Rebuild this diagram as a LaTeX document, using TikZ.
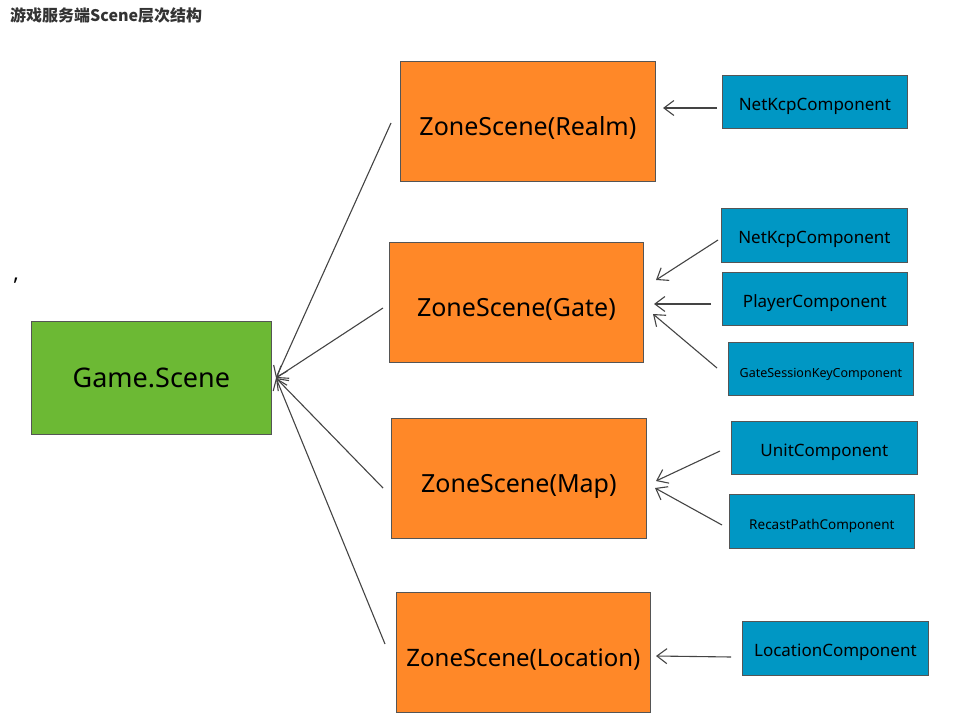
\documentclass[tikz,border=0pt]{standalone}
\usepackage{fontspec}
\setmainfont{Noto Sans}
\newfontfamily\cjk{Noto Sans CJK SC}
\usetikzlibrary{arrows.meta}
\definecolor{gsgreen}{HTML}{6CB934}
\definecolor{zsorange}{HTML}{FF8828}
\definecolor{compblue}{HTML}{0097C4}
\definecolor{edgegray}{HTML}{555555}
\definecolor{linegray}{HTML}{444444}
\begin{document}
\begin{tikzpicture}[x=1pt,y=-1pt,
  box/.style={draw=edgegray, line width=0.8pt, inner sep=0pt, anchor=north west},
  gamebox/.style={box, fill=gsgreen},
  zonebox/.style={box, fill=zsorange, minimum width=255pt, minimum height=120pt, text height=29pt, text depth=1pt, font=\fontsize{25}{28}\selectfont},
  compbox/.style={box, fill=compblue, minimum width=186pt, minimum height=54pt, text height=18pt, text depth=1pt, font=\fontsize{17}{20}\selectfont},
  link/.style={draw=linegray, line width=1.1pt, -{Straight Barb[length=10pt,width=15pt]}}
]
\useasboundingbox (0,0) rectangle (966,714);
\node[anchor=west, text=black!80, font=\cjk\bfseries\fontsize{16}{19}\selectfont, inner sep=0pt] (title) at (10,15) {游戏服务端Scene层次结构};
\node[inner sep=0pt, font=\bfseries\fontsize{22}{24}\selectfont] (comma) at (16,281) {,};

\node[gamebox, minimum width=240pt, minimum height=113pt, font=\fontsize{27}{30}\selectfont] (game) at (31,321) {Game.Scene};

\node[zonebox] (realm) at (400,61) {ZoneScene(Realm)};
\node[zonebox, minimum width=254pt] (gate) at (389,242) {ZoneScene(Gate)};
\node[zonebox] (map) at (391,418) {ZoneScene(Map)};
\node[zonebox, minimum width=254pt, font=\fontsize{24}{27}\selectfont] (loc) at (396,592) {ZoneScene(Location)};

\node[compbox, minimum width=185pt, minimum height=53pt] (kcp1) at (722,75) {NetKcpComponent};
\node[compbox] (kcp2) at (721,208) {NetKcpComponent};
\node[compbox, minimum width=185pt, minimum height=53pt] (player) at (722,272) {PlayerComponent};
\node[compbox, minimum width=185pt, minimum height=53pt, font=\fontsize{12.5}{15}\selectfont] (gsk) at (728,342) {GateSessionKeyComponent};
\node[compbox, minimum width=186pt, minimum height=53pt] (unit) at (731,421) {UnitComponent};
\node[compbox, minimum width=185pt, font=\fontsize{13.5}{16}\selectfont] (recast) at (729,494) {RecastPathComponent};
\node[compbox, minimum width=186pt] (loccomp) at (742,621) {LocationComponent};

% connector end points
\coordinate (gtip) at (276,378);
\coordinate (rs) at (391,123);
\coordinate (gs) at (383,308);
\coordinate (ms) at (383,488);
\coordinate (ls) at (385,644);

\draw[link] (rs) -- (gtip);
\draw[link] (gs) -- (gtip);
\draw[link] (ms) -- (gtip);
\draw[link] (ls) -- (gtip);

\coordinate (k1s) at (717,108); \coordinate (k1e) at (663,108);
\coordinate (k2s) at (718,240); \coordinate (k2e) at (656,280);
\coordinate (ps) at (711,304); \coordinate (pe) at (654,304);
\coordinate (gks) at (717,368); \coordinate (gke) at (653,314);
\coordinate (us) at (720,451); \coordinate (ue) at (656,481);
\coordinate (rcs) at (722,525); \coordinate (rce) at (655,488);
\coordinate (lcs) at (731,657); \coordinate (lce) at (656,656);

\draw[link] (k1s) -- (k1e);
\draw[link] (k2s) -- (k2e);
\draw[link] (ps) -- (pe);
\draw[link] (gks) -- (gke);
\draw[link] (us) -- (ue);
\draw[link] (rcs) -- (rce);
\draw[link] (lcs) -- (lce);
\end{tikzpicture}
\end{document}
